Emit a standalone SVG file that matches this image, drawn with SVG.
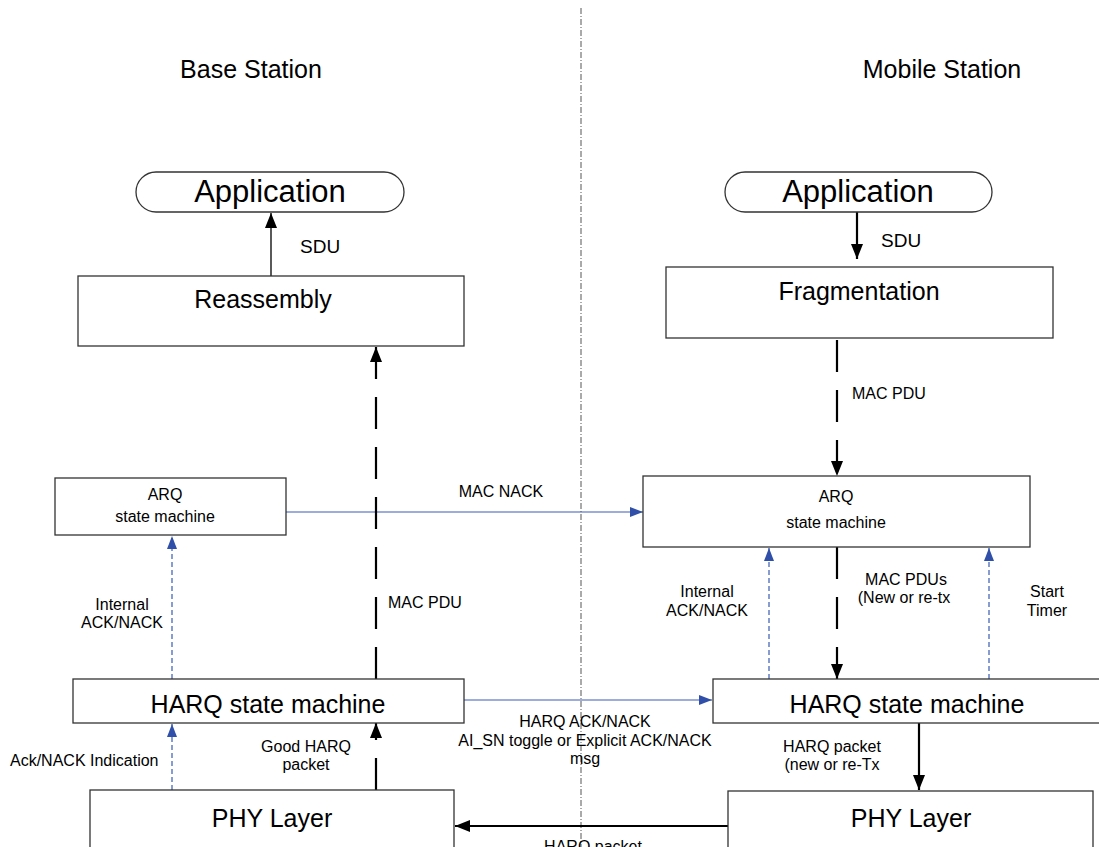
<svg xmlns="http://www.w3.org/2000/svg" width="1099" height="847" viewBox="0 0 1099 847">
<style>
text{font-family:"Liberation Sans",Arial,sans-serif;fill:#000}
.big{font-size:25px;text-anchor:middle}
.app{font-size:31px;text-anchor:middle}
.hdr{font-size:25px;text-anchor:middle}
.lbl{font-size:16px}
.mid{text-anchor:middle}
.box{fill:#fff;stroke:#333;stroke-width:1.3}
.blk{stroke:#000;stroke-width:1.3;fill:none}
.thick{stroke:#000;stroke-width:2.2;fill:none}
.dash{stroke:#000;stroke-width:2.2;fill:none;stroke-dasharray:32 18}
.blue{stroke:#3a5bb8;stroke-width:1.2;fill:none}
.bdash{stroke:#3a5bb8;stroke-width:1.2;fill:none;stroke-dasharray:5 3}
</style>
<defs>
<marker id="ah" markerUnits="userSpaceOnUse" markerWidth="16" markerHeight="14" refX="15" refY="6" orient="auto"><path d="M0,0 L15,6 L0,12 Z" fill="#000"/></marker>
<marker id="bh" markerUnits="userSpaceOnUse" markerWidth="14" markerHeight="12" refX="13" refY="5" orient="auto"><path d="M0,0 L13,5 L0,10 Z" fill="#2f4fa8"/></marker>
</defs>
<rect width="1099" height="847" fill="#fff"/>
<line x1="581" y1="8" x2="581" y2="847" stroke="#555" stroke-width="1" stroke-dasharray="6 2 1 2"/>
<text class="hdr" x="251" y="78">Base Station</text>
<text class="hdr" x="942" y="78">Mobile Station</text>
<g id="connectors">
<line class="blk" x1="271" y1="276" x2="271" y2="213" marker-end="url(#ah)"/>
<line class="thick" x1="857" y1="212" x2="857" y2="259" marker-end="url(#ah)"/>
<line class="dash" x1="837" y1="340" x2="837" y2="476" marker-end="url(#ah)"/>
<line class="blue" x1="286" y1="512" x2="643" y2="512" marker-end="url(#bh)"/>
<line class="bdash" x1="172" y1="679" x2="172" y2="536" marker-end="url(#bh)"/>
<line class="dash" x1="376" y1="679" x2="376" y2="347" marker-end="url(#ah)"/>
<line class="bdash" x1="769" y1="679" x2="769" y2="548" marker-end="url(#bh)"/>
<line class="dash" x1="837" y1="547" x2="837" y2="679" marker-end="url(#ah)"/>
<line class="bdash" x1="989" y1="679" x2="989" y2="548" marker-end="url(#bh)"/>
<line class="blue" x1="464" y1="700" x2="712" y2="700" marker-end="url(#bh)"/>
<line class="bdash" x1="172" y1="790" x2="172" y2="724" marker-end="url(#bh)"/>
<line class="dash" x1="376" y1="790" x2="376" y2="723" marker-end="url(#ah)"/>
<line class="thick" x1="919" y1="723" x2="919" y2="790" marker-end="url(#ah)"/>
<line class="thick" x1="728" y1="826" x2="455" y2="826" marker-end="url(#ah)"/>
<text class="lbl" x="300" y="253" style="font-size:19px">SDU</text>
<text class="lbl" x="881" y="247" style="font-size:19px">SDU</text>
<text class="lbl" x="852" y="399">MAC PDU</text>
<text class="lbl mid" x="501" y="497">MAC NACK</text>
<text class="lbl mid" x="122" y="610">Internal</text>
<text class="lbl mid" x="122" y="628">ACK/NACK</text>
<text class="lbl" x="388" y="608">MAC PDU</text>
<text class="lbl mid" x="707" y="597">Internal</text>
<text class="lbl mid" x="707" y="616">ACK/NACK</text>
<text class="lbl mid" x="906" y="585">MAC PDUs</text>
<text class="lbl mid" x="904" y="603">(New or re-tx</text>
<text class="lbl mid" x="1047" y="597">Start</text>
<text class="lbl mid" x="1047" y="616">Timer</text>
<text class="lbl mid" x="585" y="727">HARQ ACK/NACK</text>
<text class="lbl mid" x="585" y="746">AI_SN toggle or Explicit ACK/NACK</text>
<text class="lbl mid" x="585" y="764">msg</text>
<text class="lbl" x="10" y="766">Ack/NACK Indication</text>
<text class="lbl mid" x="306" y="752">Good HARQ</text>
<text class="lbl mid" x="306" y="770">packet</text>
<text class="lbl mid" x="832" y="752">HARQ packet</text>
<text class="lbl mid" x="832" y="770">(new or re-Tx</text>
<text class="lbl mid" x="593" y="852">HARQ packet</text>
</g>
<g id="bs-app"><rect class="box" x="136" y="172" width="268" height="40" rx="20"/><text class="app" x="270" y="202">Application</text></g>
<g id="ms-app"><rect class="box" x="725" y="172" width="267" height="40" rx="20"/><text class="app" x="858" y="202">Application</text></g>
<g id="reassembly"><rect class="box" x="78" y="276" width="386" height="70"/><text class="big" x="263" y="308">Reassembly</text></g>
<g id="fragmentation"><rect class="box" x="666" y="267" width="387" height="71"/><text class="big" x="859" y="300">Fragmentation</text></g>
<g id="bs-arq"><rect class="box" x="55" y="478" width="231" height="57"/><text class="lbl mid" x="165" y="500">ARQ</text><text class="lbl mid" x="165" y="522">state machine</text></g>
<g id="ms-arq"><rect class="box" x="643" y="476" width="387" height="71"/><text class="lbl mid" x="836" y="502">ARQ</text><text class="lbl mid" x="836" y="528">state machine</text></g>
<g id="bs-harq"><rect class="box" x="73" y="679" width="391" height="44"/><text class="big" x="268" y="713">HARQ state machine</text></g>
<g id="ms-harq"><rect class="box" x="713" y="679" width="400" height="44"/><text class="big" x="907" y="713">HARQ state machine</text></g>
<g id="bs-phy"><rect class="box" x="90" y="790" width="364" height="70"/><text class="big" x="272" y="827">PHY Layer</text></g>
<g id="ms-phy"><rect class="box" x="728" y="791" width="365" height="70"/><text class="big" x="911" y="827">PHY Layer</text></g>
</svg>
